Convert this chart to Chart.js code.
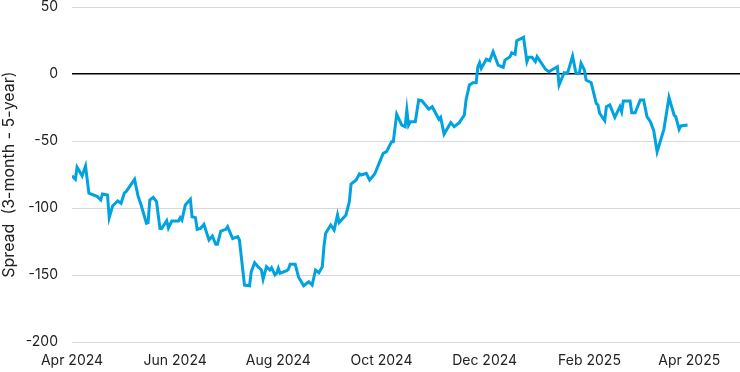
<!DOCTYPE html>
<html>
<head>
<meta charset="utf-8">
<script src="https://cdn.jsdelivr.net/npm/chart.js@4"></script>
<style>
  html, body { margin: 0; padding: 0; background: #fff; }
  #wrap { width: 740px; height: 372px; }
</style>
</head>
<body>
<div id="wrap"><canvas id="spread"></canvas></div>
<script>
// days counted from 1 Apr 2024
var days = [0, 2, 3, 6, 8, 10, 15, 17, 18, 21, 22, 24, 27, 29, 31, 32, 37, 39, 41, 44,
    45, 46, 48, 50, 52, 53, 56, 57, 59, 63, 64, 65, 67, 70, 71, 73, 74, 76, 78, 81,
    83, 85, 86, 88, 91, 92, 95, 98, 99, 102, 105, 106, 108, 110, 112, 113, 115, 117, 118, 120,
    121, 122, 123, 127, 128, 129, 132, 134, 137, 140, 142, 144, 146, 148, 149, 150, 153, 155, 157, 158,
    162, 164, 165, 168, 170, 171, 174, 176, 179, 182, 184, 186, 189, 190, 192, 195, 197, 198, 199, 200,
    203, 205, 207, 211, 213, 217, 218, 220, 224, 226, 229, 232, 233, 235, 237, 239, 240, 241, 242, 245,
    247, 249, 252, 255, 256, 259, 260, 262, 263, 267, 269, 270, 272, 274, 275, 280, 282, 287, 288, 291,
    293, 296, 298, 300, 301, 303, 304, 307, 310, 311, 312, 315, 316, 318, 321, 323, 324, 325, 326, 330,
    331, 333, 336, 338, 340, 342, 344, 346, 350, 353, 356, 357, 359, 360, 364];

var spread = [-76, -78.6, -69.6, -76, -68.7, -89, -91.5, -94, -89.5, -90.3, -107.2, -98.5, -94.8, -96.5, -88.6, -87.8, -78.6, -90.8, -98.3, -111.4,
    -110.9, -94, -92, -95.3, -115.2, -115.4, -109.5, -114.9, -109.7, -109.7, -107.2, -109, -97.8, -93.5, -106.5, -107.2, -115.9, -115.2, -112.2, -123.9,
    -120.9, -127.1, -127.1, -117.2, -115.9, -114, -122.9, -121.4, -123.9, -157.5, -158, -147.5, -140.8, -143.8, -146.3, -153.2, -143.8, -146.3, -144.5, -150,
    -148.7, -145, -148.7, -146.8, -145.7, -142, -142, -151.7, -158, -155, -157.5, -146.3, -148.3, -143.8, -128.4, -118.9, -112.7, -116.4, -105.2, -110.9,
    -105.2, -95.3, -82.1, -79.1, -74.6, -75.4, -74.1, -79.1, -74.6, -65.4, -59.2, -58, -50.5, -50.5, -29.9, -38.1, -39.3, -26.9, -38.1, -35.6,
    -35.6, -19.4, -20.1, -26.3, -24.4, -33.8, -32.3, -44.8, -36.3, -39.3, -36.3, -30.6, -19.4, -8.2, -6.5, -6.5, 5.4, 8.4, 4.2, 11,
    9.9, 16.6, 6.7, 5, 10.4, 12.9, 15.9, 14.7, 24.9, 27.4, 9.2, 12.5, 12.5, 9.2, 12.9, 3.5, 1.7, 5.4, -8.2, 1,
    0.5, 13.4, 0.5, 0.5, 8, 3, -4.5, -6.5, -21.9, -23.1, -29.3, -34.8, -24.4, -23.1, -32.3, -26.9, -24.4, -28.1, -20.1, -20.1,
    -28.9, -28.9, -19.4, -19.4, -31.8, -35.6, -42.3, -58, -41.3, -17.4, -30.6, -31.8, -41.3, -38.8, -38.1];

var tickDays = [0, 61, 122, 183, 244, 306, 365];
var tickLabels = ["Apr 2024", "Jun 2024", "Aug 2024", "Oct 2024", "Dec 2024", "Feb 2025", "Apr 2025"];

var points = [];
for (let i = 0; i < days.length; i++) {
    points.push({ x: days[i], y: spread[i] });
}

Chart.defaults.font.family = "Inter, 'Open Sans', sans-serif";
Chart.defaults.font.size = 14;
Chart.defaults.color = "#222";

new Chart(document.getElementById("spread"), {
    type: "line",
    data: {
        datasets: [{
            data: points,
            borderColor: "#00a3e0",
            borderWidth: 3,
            tension: 0,
            pointRadius: 0
        }]
    },
    options: {
        responsive: true,
        maintainAspectRatio: false,
        animation: false,
        layout: { autoPadding: false, padding: { top: 7, right: 0, bottom: 0, left: 0 } },
        plugins: { legend: { display: false }, tooltip: { enabled: false } },
        scales: {
            x: {
                type: "linear",
                min: 0,
                max: 395,
                grid: { display: false },
                border: { display: false },
                afterBuildTicks: function (scale) {
                    scale.ticks = tickDays.map(function (d) { return { value: d }; });
                },
                afterFit: function (scale) {
                    scale.height = 30;
                    scale.paddingLeft = 0;
                    scale.paddingRight = 0;
                },
                ticks: {
                    maxRotation: 0,
                    autoSkip: false,
                    padding: 2,
                    callback: function (value) {
                        let i = tickDays.indexOf(value);
                        return i >= 0 ? tickLabels[i] : "";
                    }
                }
            },
            y: {
                min: -200,
                max: 50,
                afterFit: function (scale) {
                    scale.width = 72;
                    scale.paddingTop = 0;
                    scale.paddingBottom = 0;
                },
                ticks: { stepSize: 50, padding: 14 },
                border: { display: false },
                grid: {
                    drawTicks: false,
                    lineWidth: function (ctx) { return ctx.tick && ctx.tick.value === 0 ? 1.5 : 1; },
                    color: function (ctx) { return ctx.tick && ctx.tick.value === 0 ? "#000" : "#d9d9d9"; }
                },
                title: {
                    display: true,
                    text: "Spread  (3-month - 5-year)",
                    font: { size: 16 },
                    padding: 0
                }
            }
        }
    }
});
</script>
</body>
</html>
